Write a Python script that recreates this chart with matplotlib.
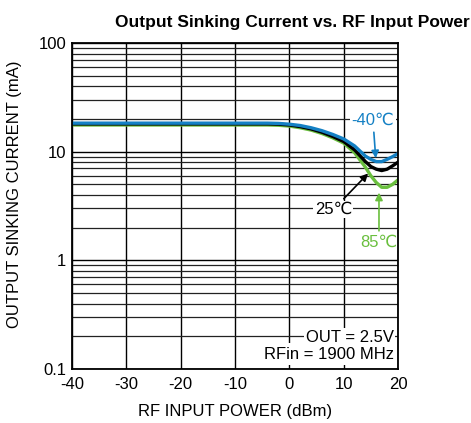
import matplotlib
matplotlib.use("Agg")
import matplotlib.pyplot as plt
from matplotlib.ticker import LogLocator, FixedLocator, NullFormatter

plt.rcParams['font.family'] = ['Liberation Sans', 'DejaVu Sans']
plt.rcParams['axes.unicode_minus'] = False

# Data
rf_dbm = [-40, -30, -20, -10, -4, -2, 0, 2, 4, 6, 8, 10, 12, 14, 15, 16, 17, 18, 19, 20]
i_m40 = [18.3, 18.3, 18.3, 18.3, 18.3, 18.2, 17.9, 17.4, 16.6, 15.6, 14.4, 13.1, 11.3, 9.1, 8.5, 8.1, 8.1, 8.5, 9.0, 9.6]
i_25 = [18.0, 18.0, 18.0, 18.0, 18.0, 17.9, 17.6, 17.0, 16.2, 15.1, 13.8, 12.4, 10.4, 8.1, 7.3, 6.9, 6.7, 6.9, 7.4, 8.0]
i_85 = [17.6, 17.6, 17.6, 17.6, 17.6, 17.5, 17.2, 16.6, 15.8, 14.7, 13.4, 12.0, 9.8, 7.2, 6.0, 5.2, 4.7, 4.7, 5.0, 5.5]

x_ticks = [-40, -30, -20, -10, 0, 10, 20]
y_ticks = [0.1, 1, 10, 100]
y_tick_labels = ['0.1', '1', '10', '100']

title = "Output Sinking Current vs. RF Input Power"
xlabel = "RF INPUT POWER (dBm)"
ylabel = "OUTPUT SINKING CURRENT (mA)"

blue = '#1480c4'
green = '#6abf3e'

fig = plt.figure(figsize=(4.71, 4.23), dpi=100)
ax = fig.add_axes([72/471, 1 - 369/423, 326/471, 326/423])
ax.set_yscale('log')
ax.set_xlim(-40, 20)
ax.set_ylim(0.1, 100)

ax.yaxis.set_major_locator(FixedLocator(y_ticks))
ax.set_yticklabels(y_tick_labels)
ax.yaxis.set_minor_locator(LogLocator(base=10, subs=range(2, 10)))
ax.yaxis.set_minor_formatter(NullFormatter())
ax.set_xticks(x_ticks)

ax.grid(True, which='major', axis='both', color='black', lw=1.0)
ax.grid(True, which='minor', axis='y', color='#222222', lw=0.9)
ax.set_axisbelow(True)
ax.tick_params(which='both', length=0, labelsize=12, pad=4)
ax.tick_params(axis='x', pad=6)
for s in ax.spines.values():
    s.set_linewidth(1.3)
    s.set_zorder(7)

ax.plot(rf_dbm, i_85, color=green, lw=2.4, zorder=3)
ax.plot(rf_dbm, i_25, color='black', lw=2.4, zorder=4)
ax.plot(rf_dbm, i_m40, color=blue, lw=2.4, zorder=5)

box = dict(facecolor='white', edgecolor='none', pad=1.0)
ax.annotate('-40\u2103', xy=(15.9, 8.7), xytext=(15.4, 19.3), color=blue, fontsize=12,
            ha='center', va='center', bbox=box,
            arrowprops=dict(arrowstyle='-|>', color=blue, lw=1.2, mutation_scale=11, shrinkA=2, shrinkB=0),
            zorder=6)
ax.annotate('25\u2103', xy=(14.5, 6.3), xytext=(8.1, 2.93), color='black', fontsize=12,
            ha='center', va='center', bbox=box,
            arrowprops=dict(arrowstyle='-|>', color='black', lw=1.2, mutation_scale=11, shrinkA=2, shrinkB=0),
            zorder=6)
ax.annotate('85\u2103', xy=(16.5, 4.2), xytext=(16.5, 1.46), color=green, fontsize=12,
            ha='center', va='center', bbox=box,
            arrowprops=dict(arrowstyle='-|>', color=green, lw=1.2, mutation_scale=11, shrinkA=2, shrinkB=0),
            zorder=6)

ax.text(19.2, 0.197, 'OUT = 2.5V', ha='right', va='center', fontsize=12, bbox=box, zorder=6)
ax.text(19.2, 0.136, 'RFin = 1900 MHz', ha='right', va='center', fontsize=12,
        bbox=dict(facecolor='white', edgecolor='none', pad=2.5), zorder=6)

fig.text(292/471, 1 - 22/423, title, ha='center', va='center', fontsize=12.5, fontweight='bold')
fig.text(235/471, 1 - 411/423, xlabel, ha='center', va='center', fontsize=12)
fig.text(15/471, 1 - 194/423, ylabel, ha='center', va='center', fontsize=12, rotation=90)

fig.savefig('out.png', dpi=100)
